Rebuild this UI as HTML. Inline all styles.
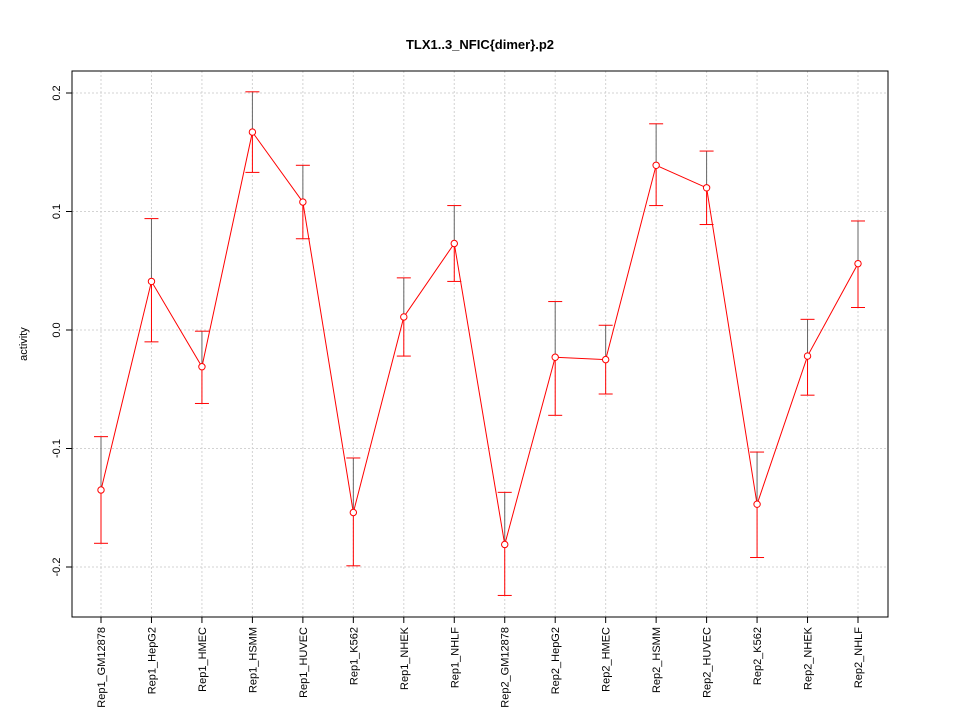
<!DOCTYPE html>
<html><head><meta charset="utf-8"><style>
body{margin:0;background:#fff;}
svg{display:block;font-family:"Liberation Sans",sans-serif;}
</style></head><body>
<svg id="chart" width="960" height="720"></svg>
<script>
const categories=["Rep1_GM12878","Rep1_HepG2","Rep1_HMEC","Rep1_HSMM","Rep1_HUVEC","Rep1_K562","Rep1_NHEK","Rep1_NHLF","Rep2_GM12878","Rep2_HepG2","Rep2_HMEC","Rep2_HSMM","Rep2_HUVEC","Rep2_K562","Rep2_NHEK","Rep2_NHLF"];
const values=[-0.135,0.041,-0.031,0.167,0.108,-0.154,0.011,0.073,-0.181,-0.023,-0.025,0.139,0.120,-0.147,-0.022,0.056];
const upper=[-0.090,0.094,-0.001,0.201,0.139,-0.108,0.044,0.105,-0.137,0.024,0.004,0.174,0.151,-0.103,0.009,0.092];
const lower=[-0.180,-0.010,-0.062,0.133,0.077,-0.199,-0.022,0.041,-0.224,-0.072,-0.054,0.105,0.089,-0.192,-0.055,0.019];
const yTicks=[-0.2,-0.1,0.0,0.1,0.2];
const yTickLabels=["-0.2","-0.1","0.0","0.1","0.2"];

const svg=document.getElementById('chart');
const NS='http://www.w3.org/2000/svg';
function mk(tag,attrs,parent){const e=document.createElementNS(NS,tag);for(const k in attrs)e.setAttribute(k,attrs[k]);(parent||svg).appendChild(e);return e;}
const L=72,R=888,T=71,B=617;
const x0=101,dx=(858-101)/15;
function xs(i){return x0+i*dx;}
function ys(v){return 330-v*1185;}

let t=mk('text',{x:480,y:49,'text-anchor':'middle','font-size':13,'font-weight':'bold'});
t.textContent='TLX1..3_NFIC{dimer}.p2';



// grid
categories.forEach((c,i)=>{
 const g=mk('line',{x1:xs(i),x2:xs(i),y1:T,y2:B,stroke:'#d3d3d3','stroke-dasharray':'2,2'});
 
 
});
yTicks.forEach((v,i)=>{
 const g=mk('line',{x1:L,x2:R,y1:ys(v),y2:ys(v),stroke:'#d3d3d3','stroke-dasharray':'2,2'});
 
 
 const tk=mk('line',{x1:L-6,x2:L,y1:ys(v),y2:ys(v),stroke:'#000'});
 
 
 const lb=mk('text',{x:0,y:0,'font-size':11,'text-anchor':'middle',transform:`translate(${L-12},${ys(v)}) rotate(-90)`});
 lb.textContent=yTickLabels[i];
 
 
});
const frame=mk('rect',{x:L,y:T,width:R-L,height:B-T,fill:'none',stroke:'#000'});



const yl=mk('text',{x:0,y:0,'font-size':11,'text-anchor':'middle',transform:`translate(27,${(T+B)/2}) rotate(-90)`});
yl.textContent='activity';



categories.forEach((c,i)=>{
 const tk=mk('line',{x1:xs(i),x2:xs(i),y1:B,y2:B+6,stroke:'#000'});
 
 
 const lb=mk('text',{x:0,y:0,'font-size':11,'text-anchor':'end',transform:`translate(${xs(i)+4},${B+10}) rotate(-90)`});
 lb.textContent=c;
 
 
});

// error bars
categories.forEach((c,i)=>{
 const x=xs(i);
 const e1=mk('line',{x1:x,x2:x,y1:ys(upper[i]),y2:ys(values[i]),stroke:'#666'});
 
 
 const e2=mk('line',{x1:x,x2:x,y1:ys(values[i]),y2:ys(lower[i]),stroke:'#f00'});
 
 
 [upper[i],lower[i]].forEach(v=>{
  const cap=mk('line',{x1:x-7,x2:x+7,y1:ys(v),y2:ys(v),stroke:'#f00'});
  
  
 });
});
const line=mk('polyline',{points:values.map((v,i)=>xs(i)+','+ys(v)).join(' '),fill:'none',stroke:'#f00'});


values.forEach((v,i)=>{
 const p=mk('circle',{cx:xs(i),cy:ys(v),r:3.2,fill:'#fff',stroke:'#f00'});
 
 
});
</script>
</body></html>
